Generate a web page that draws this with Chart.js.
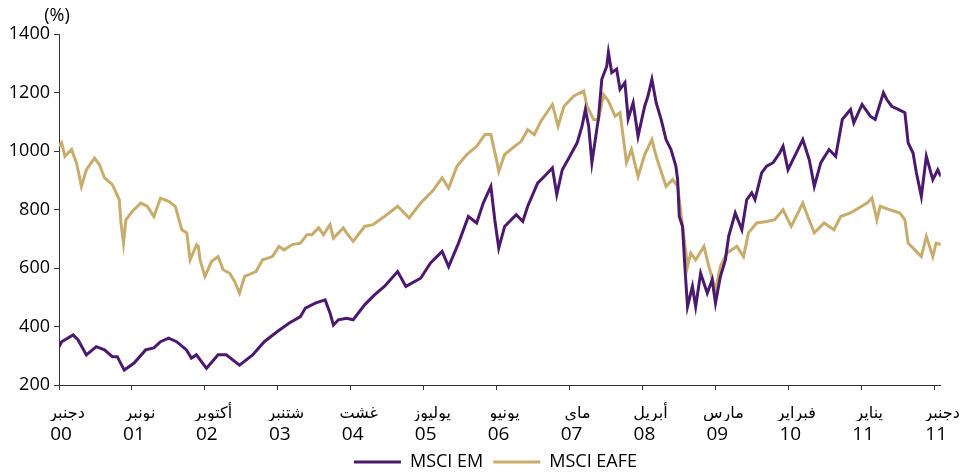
<!DOCTYPE html>
<html>
<head>
<meta charset="utf-8">
<script src="https://cdn.jsdelivr.net/npm/chart.js@4/dist/chart.umd.min.js"></script>
<style>
  html, body { margin: 0; padding: 0; background: #fff; }
  #wrap { width: 966px; height: 475px; position: relative; }
</style>
</head>
<body>
<div id="wrap"><canvas id="chart"></canvas></div>
<script>
// x = months since Dec 2000
const tickMonths = [0, 11, 22, 33, 44, 55, 66, 77, 88, 99, 110, 121, 132];
const monthLabels = ["دجنبر", "نونبر", "أكتوبر", "شتنبر", "غشت", "يوليوز", "يونيو", "ماي", "أبريل", "مارس", "فبراير", "يناير", "دجنبر"];
const yearLabels = ["00", "01", "02", "03", "04", "05", "06", "07", "08", "09", "10", "11", "11"];

const emMonth = [0, 0.4, 2.13, 2.88, 4.13, 5.62, 6.86, 8.05, 8.79, 9.84, 11.33, 13.07, 14.31, 15.31, 16.54, 17.74, 19.23, 19.97, 20.72, 22.25, 24.0, 25.23, 27.23, 29.21, 30.96, 32.94, 34.68, 36.41, 37.16, 38.65, 40.14, 40.88, 41.39, 42.14, 43.37, 44.37, 46.1, 47.59, 49.08, 51.08, 52.32, 54.55, 56.04, 57.79, 58.77, 60.26, 61.75, 63.0, 63.99, 65.14, 65.73, 66.33, 67.22, 68.97, 69.95, 70.7, 72.19, 73.19, 74.42, 75.08, 75.91, 76.91, 78.15, 78.89, 79.4, 79.89, 80.38, 81.38, 81.87, 82.62, 82.87, 83.37, 84.11, 84.62, 85.36, 85.85, 86.6, 87.34, 88.34, 88.84, 89.43, 90.07, 90.82, 91.56, 92.31, 93.05, 93.31, 93.56, 94.05, 94.4, 94.8, 95.54, 96.03, 96.78, 97.78, 98.52, 99.02, 99.76, 100.51, 101.01, 102.0, 103.0, 103.74, 104.49, 104.98, 105.98, 106.73, 107.72, 108.7, 109.21, 109.96, 111.19, 112.19, 113.17, 113.92, 114.91, 116.15, 117.15, 118.15, 119.39, 119.88, 121.13, 122.37, 123.11, 124.35, 124.86, 125.6, 126.59, 127.59, 128.08, 128.82, 129.33, 130.07, 130.82, 131.8, 132.55, 133.0];
const emValue = [331, 348, 371, 354, 303, 331, 320, 297, 297, 251, 275, 320, 327, 348, 360, 348, 320, 292, 303, 257, 303, 303, 268, 303, 348, 383, 411, 434, 463, 480, 491, 446, 405, 423, 428, 423, 474, 508, 537, 588, 537, 565, 617, 657, 605, 685, 776, 754, 822, 879, 765, 668, 742, 782, 759, 811, 890, 913, 942, 851, 936, 976, 1028, 1085, 1142, 1085, 960, 1114, 1245, 1290, 1337, 1268, 1280, 1211, 1234, 1110, 1165, 1050, 1153, 1188, 1245, 1165, 1108, 1039, 1005, 948, 902, 776, 742, 605, 468, 537, 468, 582, 514, 560, 480, 571, 628, 708, 788, 731, 834, 857, 834, 925, 948, 960, 993, 1016, 936, 993, 1039, 970, 879, 960, 1005, 982, 1108, 1142, 1096, 1159, 1119, 1108, 1199, 1176, 1153, 1142, 1131, 1028, 993, 925, 845, 982, 902, 936, 913];

const eafeMonth = [0, 0.4, 0.89, 1.89, 2.64, 3.38, 4.13, 5.37, 6.11, 6.86, 8.05, 9.09, 9.35, 9.73, 10.09, 11.07, 12.33, 13.31, 14.31, 15.31, 16.54, 17.54, 18.53, 19.27, 19.78, 20.76, 21.02, 21.27, 22.01, 23.0, 24.0, 24.75, 25.74, 26.49, 27.23, 27.98, 29.71, 30.7, 32.19, 33.19, 33.94, 35.18, 36.41, 37.41, 38.16, 39.16, 39.9, 40.88, 41.39, 42.88, 43.37, 44.37, 46.1, 47.35, 49.08, 51.08, 52.81, 54.55, 56.3, 57.79, 58.77, 60.02, 61.51, 63.0, 64.24, 65.14, 65.99, 66.33, 67.22, 68.71, 69.71, 70.7, 71.69, 72.69, 74.42, 75.27, 76.17, 77.66, 79.15, 79.64, 80.64, 81.38, 82.13, 82.87, 83.87, 84.62, 85.6, 86.35, 87.34, 88.34, 89.43, 90.07, 91.07, 91.56, 92.56, 93.31, 93.8, 94.31, 94.8, 95.29, 96.03, 97.28, 98.03, 99.02, 99.76, 100.76, 102.25, 103.25, 103.99, 105.23, 106.73, 107.95, 109.21, 110.45, 112.19, 112.94, 113.92, 115.41, 116.9, 117.9, 119.39, 120.63, 121.88, 122.62, 123.37, 123.86, 125.35, 126.84, 127.59, 128.08, 129.08, 130.07, 130.82, 131.8, 132.3, 133.0];
const eafeValue = [1016, 1028, 982, 1005, 959, 879, 936, 976, 953, 908, 885, 834, 754, 685, 765, 794, 822, 811, 776, 839, 828, 811, 731, 720, 628, 680, 674, 628, 571, 622, 639, 594, 582, 554, 514, 571, 588, 628, 639, 674, 662, 680, 685, 714, 714, 737, 714, 748, 702, 737, 720, 691, 742, 748, 776, 811, 771, 822, 862, 908, 873, 948, 988, 1016, 1056, 1056, 970, 930, 988, 1016, 1033, 1073, 1056, 1102, 1159, 1085, 1153, 1188, 1205, 1153, 1108, 1108, 1193, 1171, 1119, 1131, 960, 1005, 913, 988, 1039, 982, 913, 879, 902, 879, 788, 696, 605, 651, 628, 674, 605, 525, 605, 651, 674, 639, 720, 754, 759, 765, 799, 742, 822, 776, 720, 754, 731, 776, 788, 805, 822, 839, 765, 811, 799, 788, 765, 685, 662, 639, 708, 639, 685, 680];

const emColor = "#4b1a6e";
const eafeColor = "#c8ac6c";
const latin = "'Open Sans', sans-serif";

function toPoints(xs, ys) {
  return xs.map(function (x, i) { return { x: x, y: ys[i] }; });
}

function fixTicks(scale) {
  scale.ticks = tickMonths.map(function (m) { return { value: m }; });
}

// "(%)" over the value axis
const unitLabel = {
  id: "unitLabel",
  afterDraw(chart) {
    const ctx = chart.ctx;
    const y = chart.scales.y;
    ctx.save();
    ctx.font = "18px " + latin;
    ctx.fillStyle = "#000";
    ctx.textAlign = "center";
    ctx.textBaseline = "middle";
    ctx.fillText("(%)", y.right - 2, y.top - 18);
    ctx.restore();
  },
};

// legend is centred a bit right of the canvas middle in the original
const legendNudge = {
  id: "legendNudge",
  afterLayout(chart) {
    const lg = chart.legend;
    lg.left += 20; lg.right += 20;
  },
};

new Chart(document.getElementById("chart"), {
  type: "line",
  data: {
    datasets: [
      {
        label: "MSCI EM",
        data: toPoints(emMonth, emValue),
        borderColor: emColor,
        backgroundColor: emColor,
        borderWidth: 3,
        pointRadius: 0,
        tension: 0,
      },
      {
        label: "MSCI EAFE",
        data: toPoints(eafeMonth, eafeValue),
        borderColor: eafeColor,
        backgroundColor: eafeColor,
        borderWidth: 3,
        pointRadius: 0,
        tension: 0,
      },
    ],
  },
  options: {
    responsive: true,
    maintainAspectRatio: false,
    animation: false,
    layout: { padding: { top: 34, right: 15, left: 0, bottom: -6 } },
    plugins: {
      tooltip: { enabled: false },
      legend: {
        position: "bottom",
        labels: {
          usePointStyle: true,
          pointStyle: "line",
          pointStyleWidth: 47,
          boxHeight: 10,
          padding: 10,
          color: "#000",
          font: { family: latin, size: 18 },
        },
      },
    },
    scales: {
      y: {
        min: 200,
        max: 1400,
        ticks: {
          stepSize: 200,
          padding: 4,
          color: "#000",
          font: { family: latin, size: 18 },
          callback: function (v) { return String(v); },
        },
        grid: { drawOnChartArea: false, tickLength: 5, color: "#333" },
        border: { color: "#333", width: 1 },
        afterFit(s) { s.width = 59; },
      },
      x: {
        type: "linear",
        min: 0,
        max: 133,
        afterBuildTicks: fixTicks,
        ticks: {
          autoSkip: false,
          maxRotation: 0,
          padding: 14,
          labelOffset: 8,
          color: "#000",
          font: { family: "'DejaVu Sans', sans-serif", size: 16 },
          callback: function (v) { return monthLabels[tickMonths.indexOf(v)]; },
        },
        grid: { drawOnChartArea: false, tickLength: 5, color: "#333" },
        border: { color: "#333", width: 1 },
        afterFit(s) { s.height = 36; },
      },
      x2: {
        type: "linear",
        position: "bottom",
        min: 0,
        max: 133,
        afterBuildTicks: fixTicks,
        ticks: {
          autoSkip: false,
          maxRotation: 0,
          padding: 2,
          labelOffset: 2,
          color: "#000",
          font: { family: latin, size: 19 },
          callback: function (v) { return yearLabels[tickMonths.indexOf(v)]; },
        },
        grid: { display: false, drawTicks: false },
        border: { display: false },
        afterFit(s) { s.height = 22; },
      },
    },
  },
  plugins: [unitLabel, legendNudge],
});
</script>
</body>
</html>
